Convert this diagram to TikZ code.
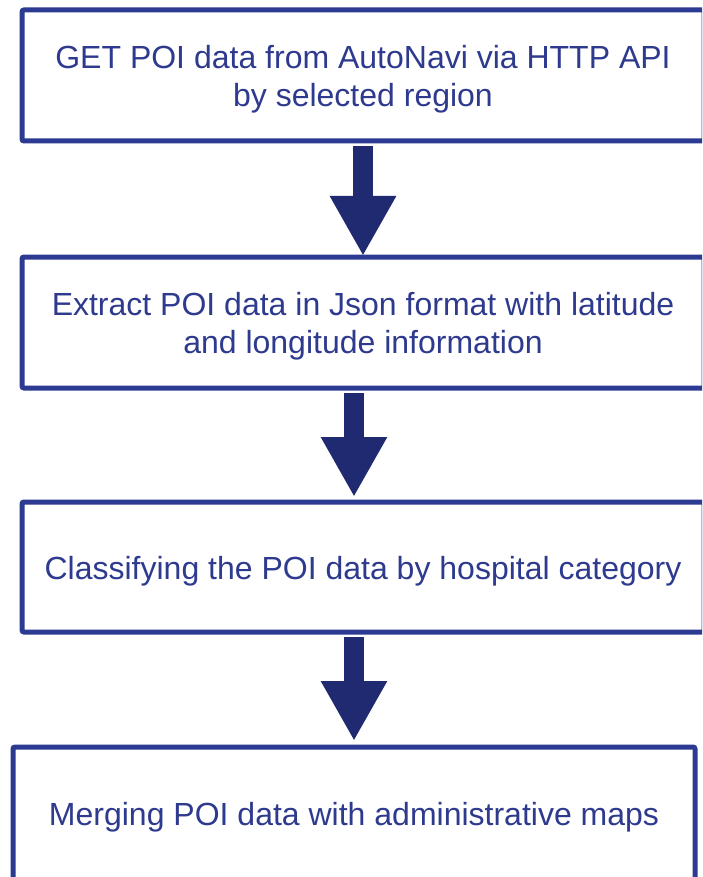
\documentclass[tikz,border=0pt]{standalone}
\usepackage{fontspec}
\setmainfont{Liberation Sans}
\usetikzlibrary{arrows.meta}
\definecolor{boxblue}{RGB}{44,58,146}
\definecolor{txtblue}{RGB}{46,58,142}
\definecolor{arrowblue}{RGB}{31,42,112}
\begin{document}
\begin{tikzpicture}[x=1pt,y=-1pt,
  stepbox/.style={draw=boxblue, line width=5pt, rounded corners=2pt, fill=white,
    inner sep=0pt},
  steptext/.style={text=txtblue, align=center, inner sep=0pt,
    font=\fontsize{32}{38}\selectfont},
  bigarrow/.style={draw=arrowblue, line width=20pt,
    -{Triangle[length=60pt,width=62pt]}}]
\useasboundingbox (0,0) rectangle (702,877);
\clip (0,0) rectangle (702,877);
\node[stepbox, minimum width=682pt, minimum height=131pt] (b1) at (363,75.5) {};
\node[stepbox, minimum width=682pt, minimum height=131pt] (b2) at (363,322.5) {};
\node[stepbox, minimum width=682pt, minimum height=130pt] (b3) at (363,567) {};
\node[stepbox, minimum width=682pt, minimum height=133pt] (b4) at (354,813.5) {};
\node[steptext] (l1) at ([yshift=-4pt]b1.center)
  {GET POI data from AutoNavi via HTTP API\\by selected region};
\node[steptext] (l2) at ([yshift=-4pt]b2.center)
  {Extract POI data in Json format with latitude\\and longitude information};
\node[steptext] (l3) at ([yshift=-4pt]b3.center)
  {Classifying the POI data by hospital category};
\node[steptext] (l4) at ([yshift=-4pt]b4.center)
  {Merging POI data with administrative maps};
\coordinate (t1) at (363,256);
\coordinate (t2) at (354,497);
\coordinate (t3) at (354,741);
\draw[bigarrow] (b1.south -| t1) ++(0,2.5) -- (t1);
\draw[bigarrow] (b2.south -| t2) ++(0,2.5) -- (t2);
\draw[bigarrow] (b3.south -| t3) ++(0,2.5) -- (t3);
\end{tikzpicture}
\end{document}
